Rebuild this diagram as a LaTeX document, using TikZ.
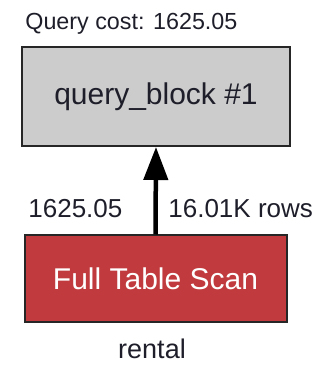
\documentclass[tikz,border=0pt]{standalone}
\usepackage{fontspec}
\setmainfont{Liberation Sans}
\usepackage{tikz}
\usetikzlibrary{
    arrows.meta,
    positioning
}

\definecolor{blockgray}{HTML}{CCCCCC}
\definecolor{scanred}{HTML}{C13B3E}
\definecolor{inktext}{HTML}{1E1E2A}

\begin{document}
\begin{tikzpicture}[x=1pt,y=1pt,thick,
    txt/.style={font=\fontsize{26}{29}\selectfont,text=inktext,inner sep=0pt},
    opbox/.style={draw=black!85,line width=2pt,inner sep=0pt}]

\useasboundingbox (0,0) rectangle (326,366);

% boxes
\node[opbox,fill=blockgray,minimum width=268pt,minimum height=99pt,
      font=\fontsize{30}{34}\selectfont,text=inktext] (qb) at (156,269.5) {query\_block \#1};
\node[opbox,fill=scanred,minimum width=262pt,minimum height=87pt,
      font=\fontsize{30}{33}\selectfont,text=white] (fts) at (155.5,87) {Full Table Scan};

% labels
\node[txt,anchor=base west,font=\fontsize{23.3}{26}\selectfont] (cost) at (25,336) {Query cost: 1625.05};
\node[txt,anchor=base west] (lcost) at (28,148) {1625.05};
\node[txt,anchor=base west] (lrows) at (168,148) {16.01K rows};
\node[txt,anchor=base,font=\fontsize{27}{30}\selectfont] (tbl) at (152,8) {rental};

% edge
\draw[line width=4.5pt,-{Triangle[length=33pt,width=24pt]}] (fts.north) -- (qb.south);

\end{tikzpicture}
\end{document}
